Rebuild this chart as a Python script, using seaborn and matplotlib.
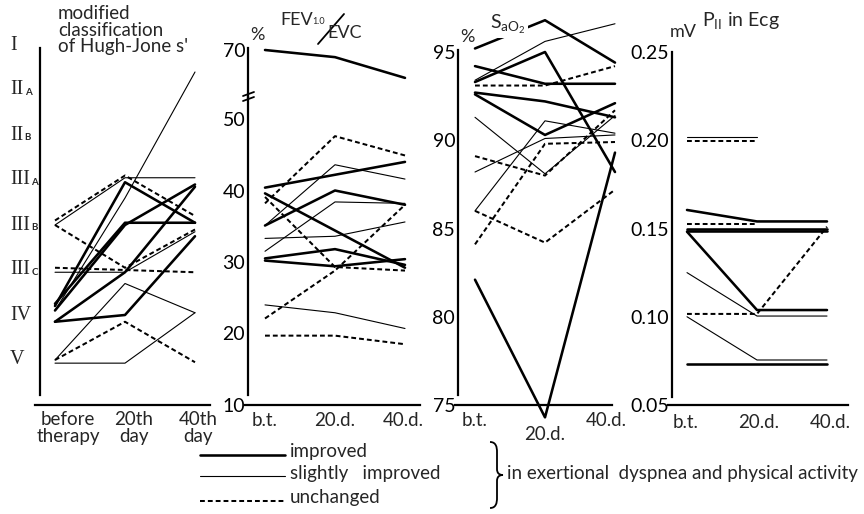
import matplotlib
matplotlib.use("Agg")
import matplotlib.pyplot as plt
import matplotlib.transforms as mtransforms
from matplotlib.lines import Line2D
from matplotlib.path import Path
from matplotlib.patches import PathPatch
import numpy as np
import pandas as pd
import seaborn as sns

# ---------------------------------------------------------------- data
groups = ["improved", "slightly improved", "unchanged"]
days = ["b.t.", "20.d.", "40.d."]
hj_day_labels = ["before\ntherapy", "20th\nday", "40th\nday"]
# Hugh-Jones grades, numeric scale V=1 ... I=8
hj_grades = [("V", ""), ("IV", ""), ("III", "C"), ("III", "B"),
             ("III", "A"), ("II", "B"), ("II", "A"), ("I", "")]

hj_group = ["unchanged", "slightly improved", "improved", "slightly improved",
            "improved", "improved", "improved", "slightly improved",
            "unchanged", "unchanged", "improved", "slightly improved",
            "unchanged", "slightly improved"]
hj_values = [
    [4.1, 5.1, 4.2],
    [4.0, 5.05, 5.05],
    [2.2, 4.95, 4.05],
    [2.1, 4.6, 7.4],
    [2.25, 4.05, 4.05],
    [2.1, 4.0, 4.9],
    [1.85, 2.95, 4.85],
    [2.95, 2.95, 3.85],
    [3.05, 3.0, 2.95],
    [4.0, 3.05, 3.9],
    [1.85, 2.0, 3.75],
    [1.0, 2.7, 2.05],
    [1.0, 1.85, 0.95],
    [0.93, 0.93, 2.05],
]

fev_group = ["improved", "unchanged", "slightly improved", "improved",
             "improved", "slightly improved", "slightly improved", "improved",
             "unchanged", "unchanged", "improved", "improved",
             "slightly improved", "unchanged"]
fev_values = [
    [70.0, 69.0, 66.1],
    [38.2, 47.6, 44.9],
    [35.1, 43.6, 41.6],
    [40.4, 42.2, 44.0],
    [35.1, 40.0, 38.0],
    [31.5, 38.4, 38.2],
    [33.3, 33.6, 35.6],
    [39.6, 34.4, 29.2],
    [39.1, 29.3, 28.8],
    [22.1, 28.8, 38.0],
    [30.5, 31.8, 29.6],
    [30.2, 29.4, 30.4],
    [24.0, 22.9, 20.7],
    [19.7, 19.7, 18.5],
]
fev_ticks_low = [10, 20, 30, 40, 50]
fev_ticks_high = [70]

sao2_group = ["improved", "slightly improved", "improved", "improved",
              "unchanged", "improved", "improved", "slightly improved",
              "slightly improved", "slightly improved", "unchanged",
              "unchanged", "unchanged", "improved"]
sao2_values = [
    [95.2, 96.8, 94.4],
    [93.4, 95.6, 96.6],
    [93.3, 95.0, 88.2],
    [94.2, 93.2, 93.2],
    [93.1, 93.1, 94.2],
    [92.7, 92.2, 91.3],
    [92.6, 90.3, 92.1],
    [91.3, 88.1, 91.4],
    [88.2, 90.1, 90.3],
    [86.0, 91.1, 90.4],
    [89.1, 88.0, 91.7],
    [84.1, 89.8, 89.9],
    [86.0, 84.2, 87.2],
    [82.1, 74.3, 89.3],
]
sao2_ticks = [75, 80, 85, 90, 95]

p2_group = ["slightly improved", "unchanged", "improved", "unchanged",
            "improved", "improved", "improved", "unchanged",
            "slightly improved", "slightly improved", "improved"]
p2_values = [
    [0.202, 0.202, np.nan],
    [0.1995, 0.1995, np.nan],
    [0.1605, 0.1540, 0.1540],
    [0.1525, 0.1525, np.nan],
    [0.1495, 0.1495, 0.1495],
    [0.1487, 0.1487, 0.1487],
    [0.1482, 0.1038, 0.1038],
    [0.1016, 0.1016, 0.1510],
    [0.1250, 0.1004, 0.1004],
    [0.1000, 0.0755, 0.0755],
    [0.0732, 0.0732, 0.0732],
]
p2_ticks = [0.05, 0.10, 0.15, 0.20, 0.25]

# ---------------------------------------------------------------- style
widths = {"improved": 1.85, "slightly improved": 0.8, "unchanged": 1.45}
dash_map = {"improved": "", "slightly improved": "", "unchanged": (2.4, 1.5)}

sns.set_theme(style="white")
plt.rcParams["font.family"] = ["Lato", "DejaVu Sans"]
plt.rcParams["axes.edgecolor"] = "black"
plt.rcParams["mathtext.fontset"] = "dejavusans"

W, H = 864.0, 514.0
fig = plt.figure(figsize=(W / 100, H / 100), dpi=100)
fig.patch.set_facecolor("white")

STEP = 70.0  # pixels between consecutive measurement days


def px_axes(x0, x1, ytop, ybot):
    return fig.add_axes([x0 / W, 1 - ybot / H, (x1 - x0) / W, (ybot - ytop) / H])


def fx(x):
    return x / W


def fy(y):
    return 1 - y / H


def long_frame(values, group):
    rows = []
    for pid, (vals, g) in enumerate(zip(values, group)):
        for d, v in enumerate(vals):
            rows.append({"patient": pid, "day": d, "value": v, "group": g})
    return pd.DataFrame(rows)


def draw_lines(ax, values, group, clip=True):
    df = long_frame(values, group)
    sns.lineplot(data=df, x="day", y="value", units="patient", estimator=None,
                 style="group", size="group", style_order=groups,
                 size_order=groups, sizes=widths, dashes=dash_map,
                 color="black", legend=False, sort=False, ax=ax,
                 clip_on=clip)


def frame(ax, x_left, x_right, x_first, x_spine, ylim, left_bounds,
          show_bottom=True):
    ax.set_xlim((x_left - x_first) / STEP, (x_right - x_first) / STEP)
    ax.set_ylim(*ylim)
    ax.set_facecolor("none")
    for s in ("top", "right"):
        ax.spines[s].set_visible(False)
    ax.spines["left"].set_position(("data", (x_spine - x_first) / STEP))
    ax.spines["left"].set_bounds(*left_bounds)
    ax.spines["left"].set_linewidth(1.6)
    ax.spines["bottom"].set_linewidth(1.6)
    ax.spines["bottom"].set_visible(show_bottom)
    ax.set_xticks([])
    ax.tick_params(axis="y", length=0, pad=2, labelsize=14, colors="black")
    ax.set_xlabel("")
    ax.set_ylabel("")


def day_labels(labels, xs_px, ys_px, size=13.5):
    for lab, x, y in zip(labels, xs_px, ys_px):
        fig.text(fx(x), fy(y), lab, ha="center", va="center", fontsize=size,
                 linespacing=0.95)


# ---------------------------------------------------------------- panel 1
ax1 = px_axes(35, 210, 45, 405)
draw_lines(ax1, hj_values, hj_group)
frame(ax1, 35, 210, 55, 40, (0, 8), (0.22, 7.93))
ax1.set_yticks([])
tr = mtransforms.blended_transform_factory(fig.transFigure, ax1.transData)
for level, (numeral, letter) in enumerate(hj_grades, start=1):
    t = ax1.text(fx(10), level, numeral, transform=tr, ha="left", va="center",
                 fontsize=14.5, family=["Liberation Serif", "DejaVu Serif"])
    if letter:
        ax1.annotate(letter, xy=(1, 0.12), xycoords=t, xytext=(1.0, 0),
                     textcoords="offset points", fontsize=7,
                     fontweight="bold", va="bottom", ha="left")
fig.text(fx(58), fy(5), "modified\nclassification\nof Hugh-Jone s'",
         ha="left", va="top", fontsize=13.5, linespacing=0.98)
day_labels(hj_day_labels, [68, 134, 198], [428, 428, 428])

# ---------------------------------------------------------------- panel 2
ax2 = px_axes(245, 420, 97, 405)
ax2u = px_axes(245, 420, 45, 97)
draw_lines(ax2, fev_values, fev_group)
draw_lines(ax2u, fev_values, fev_group)
scale2 = (405 - 119) / 40.0
frame(ax2, 245, 420, 265, 248, (10, 50 + (119 - 97) / scale2),
      (10 + 10 / scale2, 50 + (119 - 97) / scale2))
frame(ax2u, 245, 420, 265, 248, (70 - (97 - 50) / scale2, 70 + 5 / scale2),
      (70 - (97 - 50) / scale2, 70 + 2 / scale2), show_bottom=False)
ax2.set_yticks(fev_ticks_low)
ax2.set_yticklabels([str(v) for v in fev_ticks_low])
ax2u.set_yticks(fev_ticks_high)
ax2u.set_yticklabels([str(v) for v in fev_ticks_high])
for yy in (94, 99):
    fig.add_artist(Line2D([fx(243), fx(254)], [fy(yy + 2), fy(yy - 2)],
                          transform=fig.transFigure, color="black", lw=1.3))
fig.text(fx(257), fy(35), "%", ha="center", va="center", fontsize=13)
fig.text(fx(280), fy(20), "FEV", ha="left", va="center", fontsize=13)
fig.text(fx(312), fy(22), "1.0", ha="left", va="center", fontsize=6.5)
fig.add_artist(Line2D([fx(318), fx(344)], [fy(44), fy(14)],
                      transform=fig.transFigure, color="black", lw=1.3))
fig.text(fx(327), fy(33), "EVC", ha="left", va="center", fontsize=13)
day_labels(days, [265, 335, 403], [421, 421, 421])

# ---------------------------------------------------------------- panel 3
ax3 = px_axes(455, 612, 15, 405)
draw_lines(ax3, sao2_values, sao2_group, clip=False)
scale3 = (405 - 52) / 20.0
frame(ax3, 455, 612, 475, 458, (75, 95 + 37 / scale3),
      (75 + 10 / scale3, 95 + 2 / scale3))
ax3.set_yticks(sao2_ticks)
ax3.set_yticklabels([str(v) for v in sao2_ticks])
fig.text(fx(467), fy(37), "%", ha="center", va="center", fontsize=13)
fig.text(fx(490), fy(24), "S$_{\\mathregular{aO_2}}$", ha="left", va="center",
         fontsize=14, bbox=dict(facecolor="white", edgecolor="none", pad=1.5))
day_labels(days, [475, 545, 606], [421, 435, 421])

# ---------------------------------------------------------------- panel 4
ax4 = px_axes(668, 848, 52, 405)
draw_lines(ax4, p2_values, p2_group)
frame(ax4, 668, 848, 687, 672, (0.05, 0.25),
      (0.05 + 8 / 1765.0, 0.25))
ax4.set_yticks(p2_ticks)
ax4.set_yticklabels([f"{v:.2f}" for v in p2_ticks])
fig.text(fx(683), fy(32), "mV", ha="center", va="center", fontsize=13)
fig.text(fx(702), fy(21), "P$_{\\mathregular{II}}$ in Ecg", ha="left",
         va="center", fontsize=14)
day_labels(days, [686, 759, 830], [422, 422, 422])

# ---------------------------------------------------------------- legend
legend_rows = [(455, "improved"), (476, "slightly   improved"),
               (501, "unchanged")]
for (y, label), g in zip(legend_rows, groups):
    kw = dict(transform=fig.transFigure, color="black", lw=widths[g])
    if dash_map[g]:
        kw["dashes"] = dash_map[g]
    fig.add_artist(Line2D([fx(200), fx(285)], [fy(y), fy(y)], **kw))
    fig.text(fx(290), fy(y - 3), label, ha="left", va="center", fontsize=13.5)

bx, top, bot = 490, 442, 508
mid = (top + bot) / 2
brace = [(bx, top), (bx + 6, top), (bx + 7, top + 5), (bx + 7, top + 10),
         (bx + 7, mid - 6),
         (bx + 7, mid - 2), (bx + 9, mid), (bx + 13, mid),
         (bx + 9, mid), (bx + 7, mid + 2), (bx + 7, mid + 6),
         (bx + 7, bot - 10),
         (bx + 7, bot - 5), (bx + 6, bot), (bx, bot)]
codes = [Path.MOVETO, Path.CURVE4, Path.CURVE4, Path.CURVE4, Path.LINETO,
         Path.CURVE4, Path.CURVE4, Path.CURVE4,
         Path.CURVE4, Path.CURVE4, Path.CURVE4, Path.LINETO,
         Path.CURVE4, Path.CURVE4, Path.CURVE4]
fig.add_artist(PathPatch(Path([(fx(x), fy(y)) for x, y in brace], codes),
                         transform=fig.transFigure, fill=False,
                         edgecolor="black", lw=1.3))
fig.text(fx(507), fy(473), "in exertional  dyspnea and physical activity",
         ha="left", va="center", fontsize=13.5)

fig.savefig("out.png", dpi=100, facecolor="white")
